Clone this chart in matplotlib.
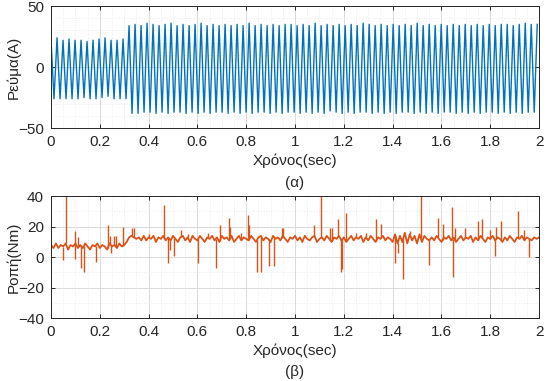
import numpy as np
import matplotlib
matplotlib.use('Agg')
import matplotlib.pyplot as plt
from matplotlib.ticker import MultipleLocator

plt.rcParams['font.family'] = ['Liberation Sans', 'DejaVu Sans']

# current waveform (a): peak / trough of each cycle
period = 0.0246  # s, one cycle
i_peaks = [22, 24, 22, 23, 22, 22, 21, 22, 23, 24, 22, 22, 23,
           34, 35, 34, 36, 35, 34, 35, 36, 34, 35, 34, 35, 36, 34, 35, 34,
           35, 34, 35, 34, 36, 34, 35, 34, 35, 34, 35, 35, 34, 35, 34, 36,
           34, 35, 34, 35, 34, 35, 34, 36, 35, 34, 35, 34, 35, 34, 35, 34,
           36, 34, 35, 34, 35, 34, 35, 34, 35, 34, 35, 34, 35, 34, 35, 35,
           34, 35, 36, 35, 35]
i_troughs = [-26, -26, -26, -26, -26, -25, -26, -26, -25, -24, -26, -26, -26,
             -38, -38, -37, -37, -38, -37, -38, -37, -37, -38, -37, -38, -37,
             -38, -37, -37, -38, -37, -38, -37, -38, -37, -37, -38, -37, -38,
             -37, -37, -38, -37, -38, -37, -38, -36, -37, -38, -37, -38, -37,
             -37, -38, -37, -38, -37, -38, -37, -37, -38, -37, -38, -37, -38,
             -37, -37, -38, -37, -38, -37, -38, -37, -37, -38, -37, -38, -37,
             -38, -37, -37]

# torque (b): background trace every 10 ms, 0 .. 2 s
torque_step = 0.01
torque_base = [8, 6, 9, 6, 8, 7, 9, 5, 8, 7, 9, 6, 8, 6, 9, 7, 5, 8, 7, 9,
               6, 8, 7, 5, 9, 7, 8, 6, 9, 7,
               8, 10, 13, 14, 13, 12,
               13, 11, 14, 11, 13, 12, 14, 10, 13, 12, 14, 11, 13, 11, 14,
               12, 10, 13, 14, 11, 13, 10, 14, 12, 11, 14, 12, 10, 13, 12,
               14, 11, 13, 10, 14, 12, 13, 11, 14, 10, 12, 14, 11, 13, 12,
               11, 14, 12, 10, 13, 14, 11, 13, 12, 10, 14, 12, 13, 11, 14,
               12, 10, 13, 12, 14, 11, 13, 10, 14, 12, 11, 13, 14, 10, 12,
               13, 11, 14, 12, 10, 13, 12, 14, 11, 13, 10, 12, 14, 11, 13,
               12, 14, 10, 13, 11, 14, 12, 10, 13, 12, 14, 11, 13, 12, 10,
               15, 9, 14, 10, 16, 9, 15, 11, 14, 9, 15, 10, 14, 12, 11,
               13, 11, 14, 12, 10, 13, 12, 14, 11, 13, 10, 12, 14, 11, 13,
               12, 14, 10, 13, 11, 14, 12, 10, 13, 12, 14, 11, 13, 12, 10,
               13, 11, 14, 12, 10, 13, 12, 14, 11, 13, 12, 11, 13, 12, 13]
spike_t = [0.05, 0.06, 0.10, 0.10, 0.112, 0.123, 0.135, 0.183, 0.232, 0.242,
           0.245, 0.257, 0.266, 0.296, 0.332, 0.34, 0.40, 0.465, 0.478, 0.486,
           0.505, 0.533, 0.56, 0.604, 0.645, 0.676, 0.691, 0.73, 0.735, 0.78,
           0.807, 0.812, 0.844, 0.862, 0.892, 0.914, 0.945, 0.952, 1.079, 1.105,
           1.143, 1.151, 1.176, 1.188, 1.194, 1.209, 1.25, 1.29, 1.332, 1.352,
           1.411, 1.421, 1.444, 1.47, 1.515, 1.549, 1.585, 1.605, 1.642, 1.646,
           1.657, 1.697, 1.751, 1.766, 1.80, 1.82, 1.823, 1.843, 1.912, 1.938,
           1.96]
spike_v = [-2, 42, 17, -1, 13, -7, -10, -3, 21, 14,
           3, 14, 14, 20, 19, 19, 15, 34, -4, 5,
           1, 18, 15, -4, 16, -7, 21, 26, 20, 16,
           28, 21, -10, -10, -6, -6, 19, 19, 21, 40,
           19, 19, 25, -10, -8, 29, 16, 16, 25, 22,
           -4, 3, -14, 17, 42, -5, 26, 22, 33, -13,
           19, 19, 24, 25, 18, 1, 20, 24, 30, 18,
           0]
x_ticks = [0, 0.2, 0.4, 0.6, 0.8, 1, 1.2, 1.4, 1.6, 1.8, 2]
x_labels = ['0', '0.2', '0.4', '0.6', '0.8', '1', '1.2', '1.4', '1.6', '1.8', '2']

blue = '#0072BD'
orange = '#D95319'
txt = '#262626'

# build current zigzag from peaks and troughs
n_p = len(i_peaks)
n_t = len(i_troughs)
t_cur = np.empty(n_p + n_t)
i_cur = np.empty(n_p + n_t)
t_cur[0::2] = np.arange(n_p) * period
i_cur[0::2] = i_peaks
t_cur[1::2] = (np.arange(n_t) + 0.5) * period
i_cur[1::2] = i_troughs

t_tq = np.arange(len(torque_base)) * torque_step
tq_base = np.array(torque_base, dtype=float)
spike_base = np.interp(spike_t, t_tq, tq_base)

fig = plt.figure(figsize=(5.51, 3.81), dpi=100)
ax1 = fig.add_axes([0.0926, 0.664, 0.8857, 0.320])
ax2 = fig.add_axes([0.0926, 0.165, 0.8857, 0.320])


def style(ax, yticks, ymin_step):
    ax.set_xlim(0, 2)
    ax.set_ylim(yticks[0], yticks[-1])
    ax.set_xticks(x_ticks, x_labels)
    ax.set_yticks(yticks)
    ax.xaxis.set_minor_locator(MultipleLocator(0.05))
    ax.yaxis.set_minor_locator(MultipleLocator(ymin_step))
    ax.grid(True, which='major', color='#dadada', linewidth=0.7)
    ax.grid(True, which='minor', color='#e6e6e6', linewidth=0.6, linestyle=(0, (1, 2)))
    ax.set_axisbelow(True)
    ax.tick_params(which='major', direction='in', length=3, width=0.7, colors=txt,
                   top=True, right=True, labelsize=11, pad=5)
    ax.tick_params(which='minor', length=0, top=True, right=True)
    for s in ax.spines.values():
        s.set_color(txt)
        s.set_linewidth(0.7)


ax1.plot(t_cur, i_cur, color=blue, linewidth=1.0)
style(ax1, [-50, 0, 50], 10)
ax1.set_ylabel('Ρεύμα(A)', fontsize=11, color=txt)
ax1.set_xlabel('Χρόνος(sec)', fontsize=11, color=txt, labelpad=3)
ax1.yaxis.set_label_coords(-0.062, 0.5)
ax1.text(0.5, -0.45, '(α)', transform=ax1.transAxes, ha='center', va='center',
         fontsize=11, color=txt)

ax2.plot(t_tq, tq_base, color=orange, linewidth=1.3)
ax2.vlines(spike_t, spike_base, spike_v, color=orange, linewidth=1.0)
style(ax2, [-40, -20, 0, 20, 40], 10)
ax2.set_ylabel('Ροπή(Nm)', fontsize=11, color=txt)
ax2.set_xlabel('Χρόνος(sec)', fontsize=11, color=txt, labelpad=3)
ax2.yaxis.set_label_coords(-0.062, 0.5)
ax2.text(0.5, -0.44, '(β)', transform=ax2.transAxes, ha='center', va='center',
         fontsize=11, color=txt)

fig.savefig('out.png', dpi=100)
